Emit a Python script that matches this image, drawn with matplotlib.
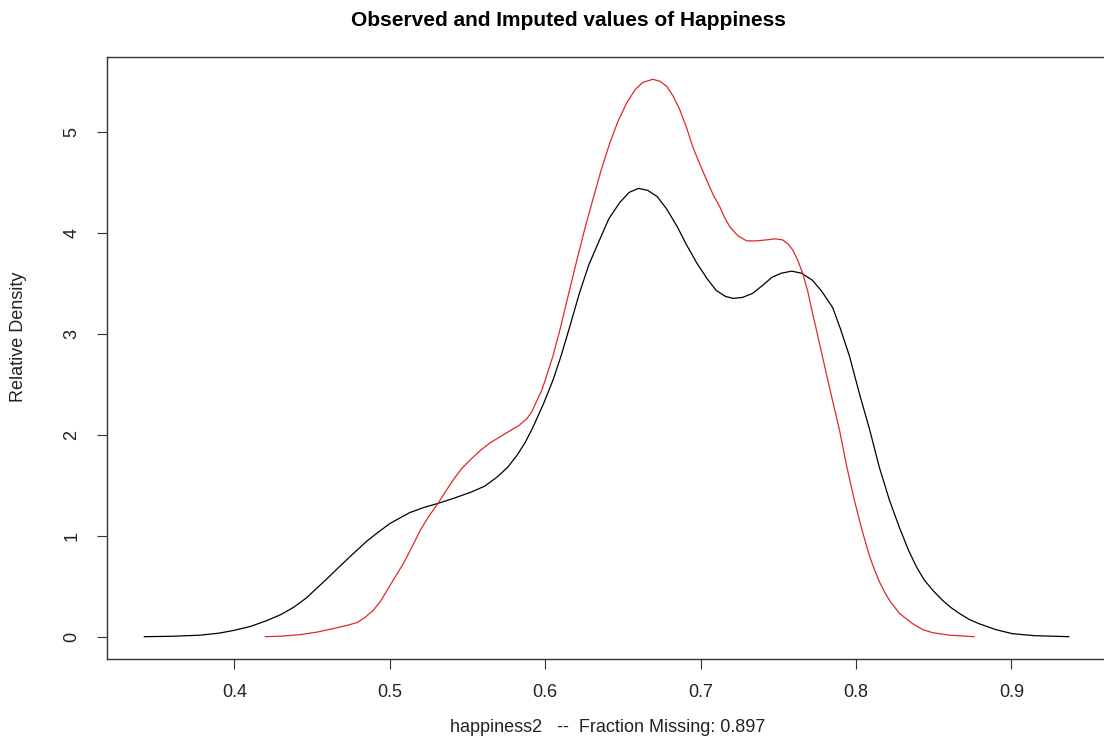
#Importing libraries
import numpy as np
import matplotlib.pyplot as plt

plt.rcParams['font.family'] = ['Liberation Sans', 'DejaVu Sans']

#Density of the observed values (black)
obs_x = [0.342, 0.360, 0.378, 0.390, 0.399, 0.410, 0.421, 0.430, 0.438, 0.446,
         0.453, 0.460, 0.468, 0.477, 0.4855, 0.493, 0.500, 0.507, 0.513, 0.522,
         0.531, 0.541, 0.552, 0.561, 0.569, 0.576, 0.582, 0.587, 0.592, 0.599,
         0.605, 0.610, 0.616, 0.622, 0.628, 0.635, 0.641, 0.648, 0.654, 0.660,
         0.666, 0.672, 0.678, 0.685, 0.691, 0.6976, 0.704, 0.710, 0.716, 0.721,
         0.727, 0.7335, 0.740, 0.746, 0.752, 0.7586, 0.765, 0.772, 0.778, 0.785,
         0.790, 0.796, 0.802, 0.809, 0.815, 0.8216, 0.828, 0.834, 0.839, 0.844,
         0.850, 0.8557, 0.861, 0.8666, 0.873, 0.879, 0.890, 0.9006, 0.915, 0.937]
obs_y = [0.0, 0.004, 0.015, 0.035, 0.06, 0.10, 0.16, 0.22, 0.29, 0.38,
         0.48, 0.58, 0.70, 0.83, 0.95, 1.04, 1.12, 1.18, 1.23, 1.28,
         1.32, 1.37, 1.43, 1.49, 1.58, 1.68, 1.80, 1.92, 2.07, 2.31,
         2.54, 2.77, 3.08, 3.40, 3.68, 3.93, 4.14, 4.30, 4.40, 4.44,
         4.42, 4.36, 4.24, 4.06, 3.88, 3.70, 3.55, 3.43, 3.37, 3.35,
         3.36, 3.40, 3.48, 3.56, 3.60, 3.62, 3.60, 3.53, 3.42, 3.26,
         3.05, 2.77, 2.42, 2.04, 1.68, 1.35, 1.08, 0.85, 0.69, 0.56,
         0.45, 0.36, 0.29, 0.23, 0.17, 0.13, 0.07, 0.03, 0.01, 0.0]

#Density of the imputed values (red)
imp_x = [0.420, 0.430, 0.4424, 0.453, 0.4636, 0.472, 0.479, 0.484, 0.4893, 0.494,
         0.4983, 0.503, 0.5086, 0.514, 0.5195, 0.525, 0.531, 0.536, 0.5407, 0.546,
         0.5517, 0.558, 0.5645, 0.571, 0.5774, 0.583, 0.5883, 0.5915, 0.5947, 0.5975,
         0.600, 0.605, 0.6095, 0.615, 0.6204, 0.6255, 0.6307, 0.636, 0.6416, 0.647,
         0.6526, 0.658, 0.6629, 0.6693, 0.674, 0.6783, 0.6825, 0.6866, 0.691, 0.695,
         0.6995, 0.704, 0.708, 0.7123, 0.7155, 0.7188, 0.724, 0.7297, 0.736, 0.7425,
         0.748, 0.7528, 0.7563, 0.7593, 0.7625, 0.7657, 0.769, 0.7721, 0.7753, 0.7785,
         0.784, 0.7895, 0.794, 0.799, 0.804, 0.8087, 0.812, 0.8152, 0.8185, 0.8216,
         0.828, 0.8364, 0.843, 0.8492, 0.860, 0.876]
imp_y = [0.0, 0.005, 0.02, 0.045, 0.08, 0.11, 0.14, 0.19, 0.26, 0.35,
         0.46, 0.58, 0.72, 0.88, 1.05, 1.19, 1.32, 1.44, 1.55, 1.66,
         1.75, 1.84, 1.92, 1.98, 2.04, 2.09, 2.16, 2.23, 2.34, 2.43,
         2.54, 2.78, 3.04, 3.39, 3.73, 4.04, 4.33, 4.62, 4.89, 5.11,
         5.29, 5.42, 5.49, 5.52, 5.50, 5.45, 5.35, 5.22, 5.04, 4.85,
         4.68, 4.52, 4.38, 4.26, 4.15, 4.06, 3.97, 3.92, 3.92, 3.93,
         3.94, 3.93, 3.89, 3.83, 3.73, 3.60, 3.42, 3.20, 2.99, 2.77,
         2.40, 2.04, 1.69, 1.35, 1.05, 0.80, 0.66, 0.54, 0.44, 0.36,
         0.23, 0.13, 0.07, 0.04, 0.015, 0.0]

x_ticks = [0.4, 0.5, 0.6, 0.7, 0.8, 0.9]
y_ticks = [0, 1, 2, 3, 4, 5]

W, H = 1104, 740
fig = plt.figure(figsize=(W / 100, H / 100), dpi=100)
ax = fig.add_axes([107 / W, 81 / H, 1003 / W, 602 / H])

ax.plot(obs_x, obs_y, color='black', lw=0.9)
ax.plot(imp_x, imp_y, color='#e02828', lw=0.9)

#R style axis ranges (4% padding)
ax.set_xlim(0.318, 0.9635)
ax.set_ylim(-0.221, 5.741)

ax.set_xticks(x_ticks)
ax.set_xticklabels([str(t) for t in x_ticks])
ax.set_yticks(y_ticks)
ax.set_yticklabels([str(t) for t in y_ticks], rotation=90, va='center')
ax.tick_params(direction='out', length=7, width=0.8, colors='#333333',
               labelcolor='#222222', labelsize=13)
ax.tick_params(axis='x', pad=11)
ax.tick_params(axis='y', pad=12)
for s in ax.spines.values():
    s.set_color('#333333')
    s.set_linewidth(1.0)

fig.text(568 / W, 1 - 21 / H, 'Observed and Imputed values of Happiness',
         ha='center', va='center', fontsize=15, fontweight='bold')
fig.text(608 / W, 1 - 728 / H, 'happiness2   --  Fraction Missing: 0.897',
         ha='center', va='center', fontsize=13, color='#222222')
fig.text(19 / W, 1 - 337 / H, 'Relative Density', rotation=90,
         ha='center', va='center', fontsize=13, color='#222222')

plt.savefig('out.png', dpi=100)
